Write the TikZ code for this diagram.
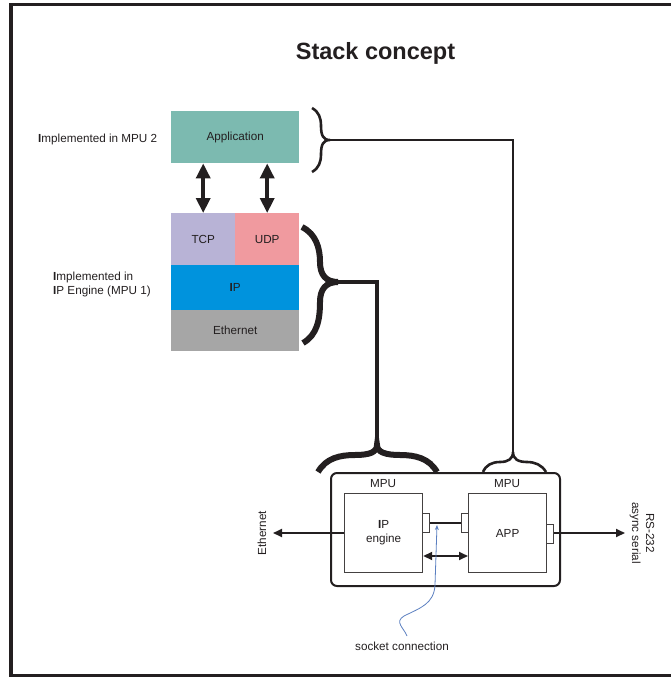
\documentclass[tikz,border=0pt]{standalone}
\usepackage{fontspec}
\setmainfont{Liberation Sans}
\usetikzlibrary{arrows.meta}
\definecolor{ink}{HTML}{231F20}
\definecolor{appc}{HTML}{7CBAB0}
\definecolor{tcpc}{HTML}{B8B3D6}
\definecolor{udpc}{HTML}{F09A9F}
\definecolor{ipc}{HTML}{0093DD}
\definecolor{ethc}{HTML}{A6A6A6}
\definecolor{sockc}{HTML}{5B7FC0}
\tikzset{
  lbl/.style={font=\fontsize{11.7}{14}\selectfont, text=ink, inner sep=0pt},
  layer/.style={draw=none, inner sep=0pt, anchor=north west},
  bigarrow/.style={ink, line width=3.5pt, {Triangle[width=14pt,length=15pt]}-{Triangle[width=14pt,length=15pt]}},
  smallarrow/.style={ink, line width=1.8pt, -{Triangle[width=8pt,length=9pt]}},
  thickbrace/.style={ink, line width=6pt},
  thinbrace/.style={ink, line width=2.6pt},
  unitbox/.style={draw=ink!85, line width=1.2pt, fill=white, inner sep=0pt, anchor=north west},
}
\begin{document}
\begin{tikzpicture}[x=1pt,y=-1pt]
\useasboundingbox (0,0) rectangle (671,677);
% frame
\draw[ink, line width=3.5pt] (671,4.5) -- (11,4.5) -- (11,675.5) -- (671,675.5);
% title
\node[font=\fontsize{23.5}{28}\selectfont\bfseries, text=ink, inner sep=0pt] (title) at (375.5,53) {Stack concept};
% stack layers
\node[layer, fill=appc, minimum width=128pt, minimum height=52pt] (app) at (171,111) {};
\node[lbl] at (app.center) {Application};
\node[layer, fill=tcpc, minimum width=64pt, minimum height=52pt] (tcp) at (171,213) {};
\node[lbl] at (tcp.center) {TCP};
\node[layer, fill=udpc, minimum width=64pt, minimum height=52pt] (udp) at (235,213) {};
\node[lbl] at (udp.center) {UDP};
\node[layer, fill=ipc, minimum width=128pt, minimum height=45pt] (ip) at (171,265) {};
\node[lbl] at (ip.center) {\textbf{I}P};
\node[layer, fill=ethc, minimum width=128pt, minimum height=41pt] (eth) at (171,310) {};
\node[lbl] at (eth.center) {Ethernet};
% arrows between application and transport
\draw[bigarrow] (app.south -| tcp.center) -- (tcp.north);
\draw[bigarrow] (app.south -| udp.center) -- (udp.north);
% side labels
\node[lbl, anchor=west] (l1) at (38,139) {\textbf{I}mplemented in MPU 2};
\node[lbl, anchor=west, align=left] (l2) at (53,284) {\textbf{I}mplemented in\\\textbf{I}P Engine (MPU 1)};
% brace coordinates
\coordinate (b1tip) at (330,140);
\coordinate (b2tip) at (338,282);
\coordinate (b3tip) at (513,452);
\coordinate (b4tip) at (377,445);
% brace 1 (thin, next to application)
\draw[thinbrace] (312,108) .. controls (319,112) and (321,118) .. (321,126)
  .. controls (321,135) and (323,140) .. (b1tip)
  .. controls (323,140) and (321,145) .. (321,154)
  .. controls (321,162) and (319,168) .. (312,172);
% brace 2 (thick, next to TCP..Ethernet)
\draw[thickbrace] (302,227) .. controls (316,234) and (320,248) .. (320,262)
  .. controls (320,275) and (326,282) .. (b2tip)
  .. controls (326,282) and (320,289) .. (320,302)
  .. controls (320,320) and (317,335) .. (303,343);
% brace 4 (thick, over IP engine MPU)
\draw[thickbrace] (318,472) .. controls (326,458) and (340,455) .. (355,455)
  .. controls (370,455) and (377,452) .. (b4tip)
  .. controls (377,452) and (385,455) .. (400,455)
  .. controls (415,455) and (429,458) .. (437,472);
% brace 3 (thin, over APP MPU)
\draw[thinbrace] (483,472) .. controls (486,465) and (492,462) .. (500,462)
  .. controls (508,462) and (513,459) .. (b3tip)
  .. controls (513,459) and (518,462) .. (527,462)
  .. controls (535,462) and (542,465) .. (546,472);
% connectors between braces
\draw[ink, line width=2pt] (b1tip) -| (b3tip);
\draw[ink, line width=3.5pt] (b2tip) -| (b4tip);
% hardware block
\draw[ink, line width=2pt, rounded corners=6pt] (331,473) rectangle (560,586);
\node[lbl] (mpu1) at (383,484) {MPU};
\node[lbl] (mpu2) at (507,484) {MPU};
\node[unitbox, minimum width=78pt, minimum height=79pt] (ipe) at (344,493) {};
\node[lbl, align=center] at (ipe.center) {\textbf{I}P\\engine};
\node[unitbox, minimum width=78pt, minimum height=79pt] (appb) at (468,493) {};
\node[lbl] at (appb.center) {APP};
% ports
\node[unitbox, minimum width=7pt, minimum height=19pt] (p1) at (422,513) {};
\node[unitbox, minimum width=7pt, minimum height=19pt] (p2) at (461,513) {};
\node[unitbox, minimum width=7pt, minimum height=19pt] (p3) at (546,524) {};
\draw[ink, line width=1.8pt] (p1.east |- 0,523) -- (p2.west |- 0,523);
\draw[ink, line width=1.8pt, {Triangle[width=8pt,length=9pt]}-{Triangle[width=8pt,length=9pt]}] (ipe.east |- 0,556) -- (appb.west |- 0,556);
% external links
\coordinate (ethend) at (273,533);
\coordinate (rsend) at (625,533);
\draw[smallarrow] (ipe.west |- ethend) -- (ethend);
\draw[smallarrow] (p3.east |- rsend) -- (rsend);
\node[lbl, rotate=90] (ethlbl) at (262,533) {Ethernet};
\node[lbl, rotate=-90, align=center] (rslbl) at (642,533) {RS-232\\async serial};
% socket connection
\node[lbl] (sock) at (402,646) {socket connection};
\draw[sockc, line width=0.8pt, -{Stealth[length=5pt,width=4pt]}] (407,636) .. controls (404,628) and (394,622) .. (404,616)
  .. controls (420,608) and (434,604) .. (435,585) -- (437,525);
\end{tikzpicture}
\end{document}
